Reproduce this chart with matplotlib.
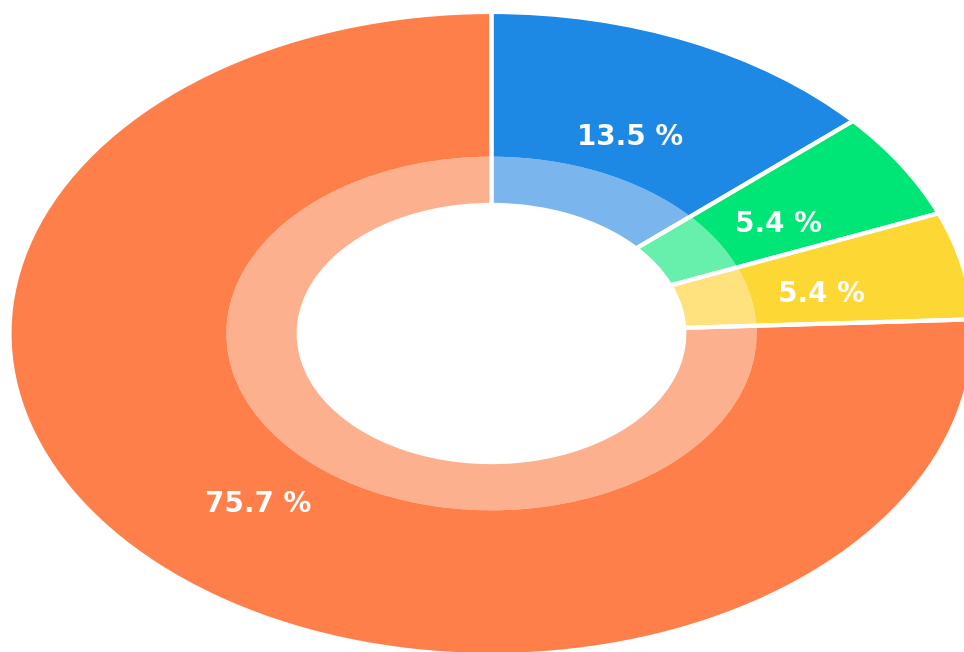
import matplotlib.pyplot as plt
import matplotlib.transforms as mtransforms

# Share of each category (percent), clockwise from 12 o'clock
categories = ['A', 'B', 'C', 'D']
shares = [13.5, 5.4, 5.4, 75.7]
colors_outer = ['#1E88E5', '#00E676', '#FDD835', '#FF7F4A']
colors_inner = ['#7BB5EE', '#66F0AB', '#FFE27D', '#FDB08E']

fig = plt.figure(figsize=(9.64, 6.52), dpi=100)
ax = fig.add_axes([0, 0, 1, 1])

# light inner band
ax.pie(shares, radius=0.55, startangle=90, counterclock=False,
       colors=colors_inner, wedgeprops=dict(width=0.15, linewidth=0))

# main ring with percentage labels
wedges, texts, autotexts = ax.pie(
    shares, radius=1.0, startangle=90, counterclock=False,
    colors=colors_outer, wedgeprops=dict(width=0.45, linewidth=0),
    autopct='%.1f %%', pctdistance=0.7)
shift = mtransforms.offset_copy(ax.transData, fig=fig, x=0, y=-6, units='points')
for t in autotexts:
    t.set_color('white')
    t.set_fontsize(20)
    t.set_fontweight('bold')
    t.set_family('DejaVu Sans')
    t.set_transform(shift)

# white separators through both rings
ax.pie(shares, radius=1.0, startangle=90, counterclock=False,
       wedgeprops=dict(width=0.6, facecolor='none', edgecolor='white',
                       linewidth=3))

# stretched view, clipped on the right and bottom
ax.set_aspect('auto')
ax.set_xlim(-1.0197, 0.9803)
ax.set_ylim(-0.9907, 1.0373)
ax.axis('off')

fig.savefig('out.png', dpi=100)
